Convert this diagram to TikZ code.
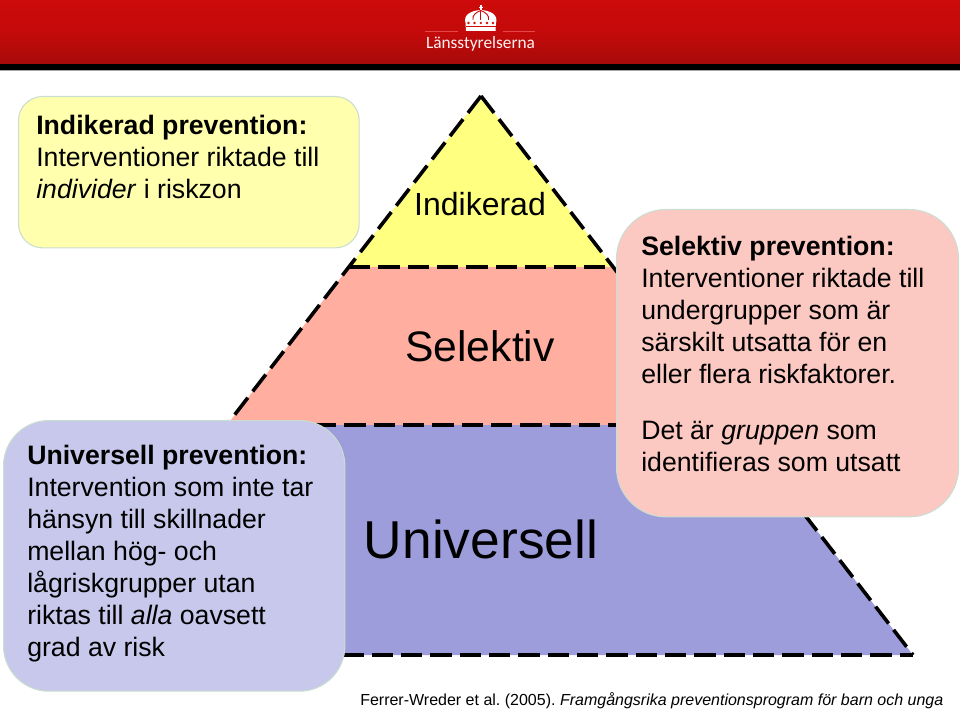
\documentclass[tikz,border=0pt]{standalone}
\usepackage{fontspec}
\setmainfont{Liberation Sans}
\newfontfamily\logofont{Carlito}
\frenchspacing
\definecolor{headred}{HTML}{CE0A0A}
\definecolor{headdark}{HTML}{A80A0A}
\definecolor{logoline}{HTML}{E4474A}
\definecolor{topyellow}{HTML}{FFFF80}
\definecolor{midred}{HTML}{FFAE9F}
\definecolor{lowblue}{HTML}{9D9DDC}
\definecolor{yellowbox}{HTML}{FFFFAD}
\definecolor{bluebox}{HTML}{C7C8EB}
\definecolor{redbox}{HTML}{FCC9C2}
\definecolor{boxline}{HTML}{C9DDD0}
\tikzset{
  infobox/.style={draw=boxline, line width=0.8pt, anchor=north west, inner sep=0pt},
  infotext/.style={anchor=north west, align=left, inner sep=0pt, font=\fontsize{20}{24}\selectfont, text=black},
  levellabel/.style={anchor=center, inner sep=0pt, text=black},
  dashline/.style={line width=2.7pt, dash pattern=on 16pt off 6pt, line cap=butt}
}
\begin{document}
\begin{tikzpicture}[x=0.75pt, y=-0.75pt]
  \useasboundingbox (0,0) rectangle (960,709);

  % Header band
  \fill[top color=headred, bottom color=headdark, middle color=headred!95!black] (0,0) rectangle (960,64);
  \fill[black] (0,64) rectangle (960,70);
  \fill[black!35] (0,70) rectangle (960,71.5);

  % Logo
  \fill[white] (479.9,5) rectangle (481.7,11);
  \fill[white] (478.6,7) rectangle (483,8.4);
  \fill[white] (465.5,23) .. controls (463,15) and (471,10.5) .. (480.8,10)
    .. controls (490.5,10.5) and (498.5,15) .. (496,23) -- (495.5,31) -- (466,31) -- cycle;
  \fill[headred] (466,26.2) rectangle (495.5,27);
  \draw[headred, line width=0.7pt] (473,20) .. controls (472,15.5) and (475.5,12.5) .. (480.8,10.5)
    .. controls (486,12.5) and (489.5,15.5) .. (488.5,20);
  \draw[headred, line width=0.7pt] (480.8,10.5) -- (480.8,20);
  \foreach \xstar in {468.5,474.5,480.8,487,493}
    \fill[headred] (\xstar,23) circle (1.3);
  \draw[logoline, line width=1.1pt] (425,31.5) -- (458,31.5) (503,31.5) -- (535,31.5);
  \node[anchor=center, inner sep=0pt, text=white!95!red, font=\logofont\fontsize{13}{15}\selectfont] (logotext) at (480.5,44) {Länsstyrelserna};

  % Pyramid
  \fill[topyellow] (481,96) -- (613,267) -- (349,267) -- cycle;
  \fill[midred] (349,267) -- (613,267) -- (735,425) -- (227,425) -- cycle;
  \fill[lowblue] (227,425) -- (735,425) -- (913,655) -- (49,655) -- cycle;
  \draw[dashline] (481,96) -- (913,655);
  \draw[dashline] (481,96) -- (49,655);
  \draw[dashline] (349,267) -- (613,267);
  \draw[dashline] (227,425) -- (735,425);
  \draw[dashline] (49,655) -- (913,655);

  \node[levellabel, font=\fontsize{24}{28}\selectfont] (indikerad) at (480,204) {Indikerad};
  \node[levellabel, font=\fontsize{32}{36}\selectfont] (selektiv) at (480,346) {Selektiv};
  \node[levellabel, font=\fontsize{40}{44}\selectfont] (universell) at (481,539) {Universell};

  % Boxes
  \node[infobox, fill=yellowbox, rounded corners=18pt, minimum width=255.5pt, minimum height=113.5pt] (boxind) at (18,96) {};
  \node[infobox, fill=bluebox, rounded corners=34pt, minimum width=256pt, minimum height=203pt] (boxuni) at (3,420) {};
  \node[infobox, fill=redbox, rounded corners=37pt, minimum width=256.5pt, minimum height=230.5pt] (boxsel) at (616,209) {};

  \node[infotext] (textind) at (36,115) {\textbf{Indikerad prevention:}\\Interventioner riktade till\\\textit{individer} i riskzon};
  \node[infotext] (textuni) at (27,445) {\textbf{Universell prevention:}\\Intervention som inte tar\\hänsyn till skillnader\\mellan hög- och\\lågriskgrupper utan\\riktas till \textit{alla} oavsett\\grad av risk};
  \node[infotext] (textsel) at (641,236) {\textbf{Selektiv prevention:}\\Interventioner riktade till\\undergrupper som är\\särskilt utsatta för en\\eller flera riskfaktorer.};
  \node[infotext] (textsel2) at (641,421) {Det är \textit{gruppen} som\\identifieras som utsatt};

  % Reference
  \node[anchor=base west, inner sep=0pt, font=\fontsize{12}{14}\selectfont, text=black] (source) at (360,705) {Ferrer-Wreder et al. (2005). \textit{Framgångsrika preventionsprogram för barn och unga}};
\end{tikzpicture}
\end{document}
